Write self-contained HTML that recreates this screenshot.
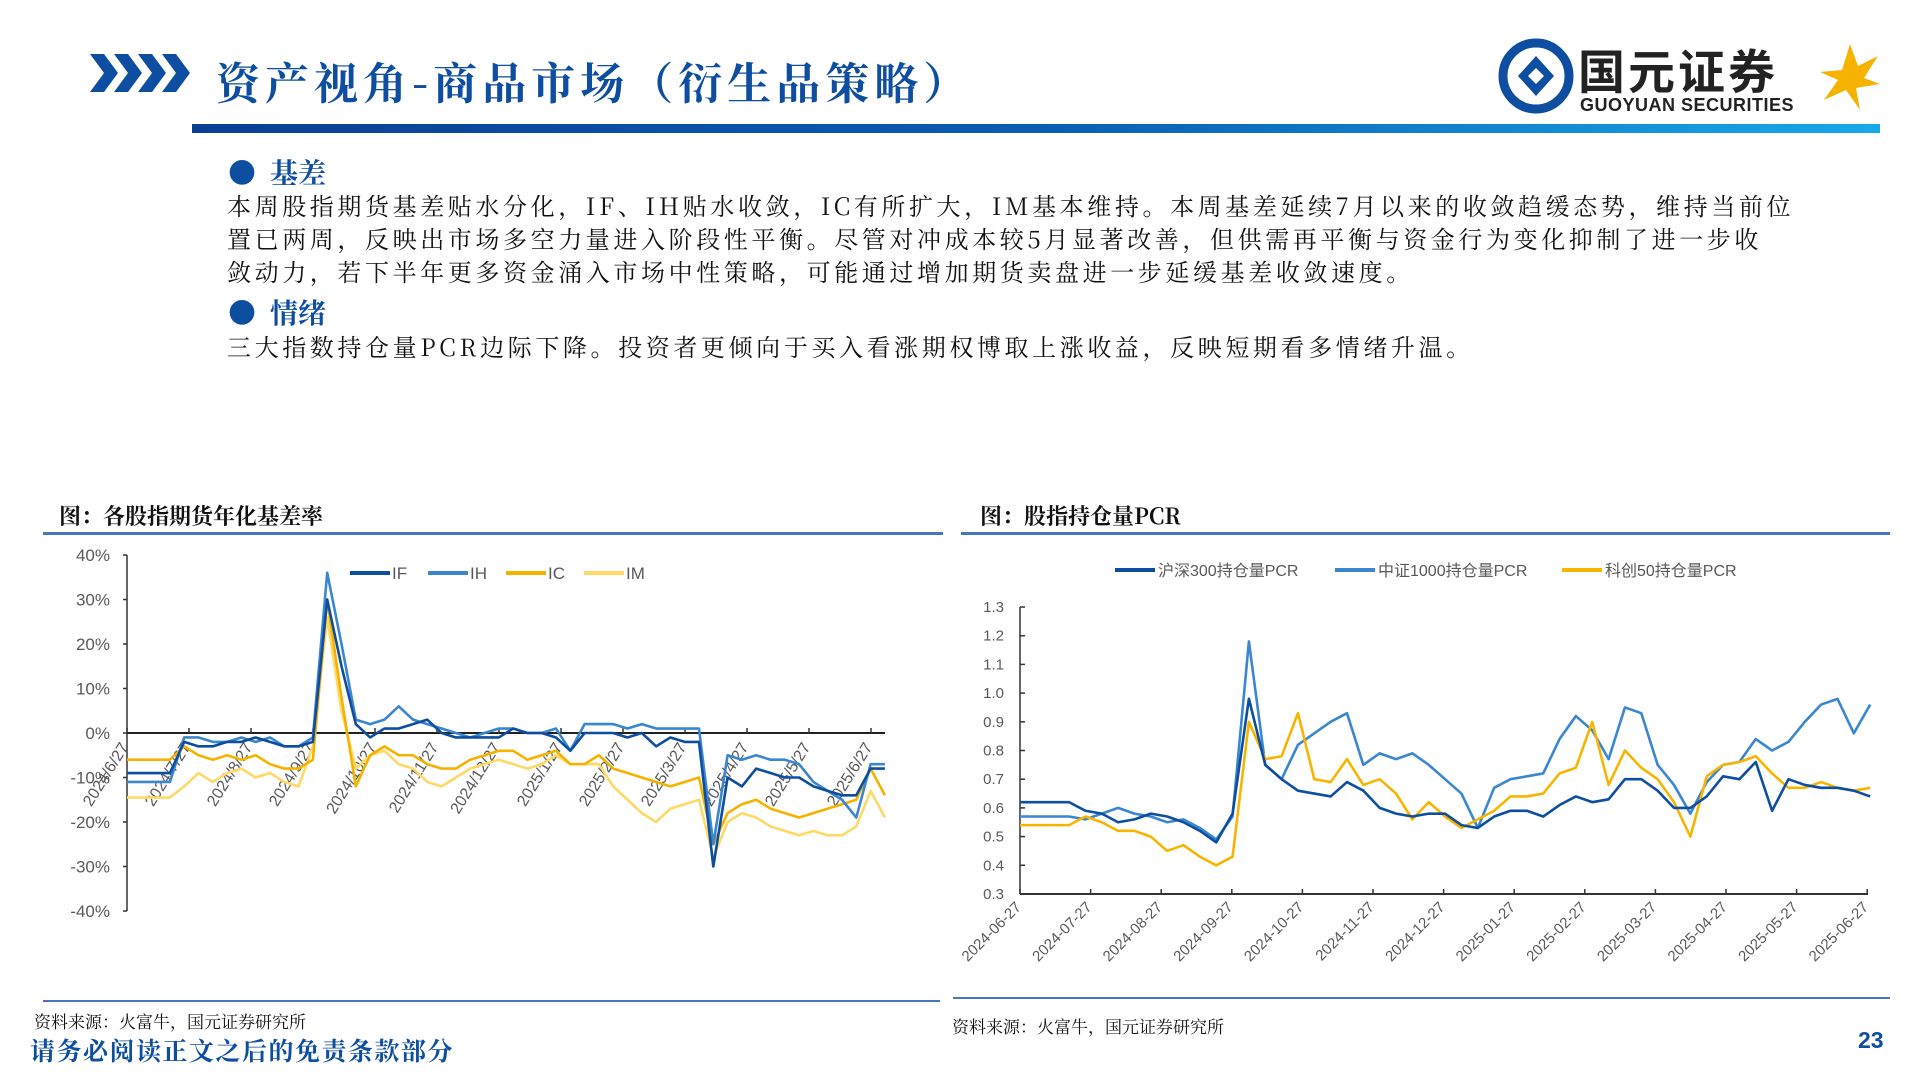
<!DOCTYPE html>
<html><head><meta charset="utf-8">
<style>
html,body{margin:0;padding:0;background:#fff;}
body{width:1920px;height:1080px;position:relative;overflow:hidden;font-family:"Liberation Sans","Noto Sans CJK SC",sans-serif;}
.abs{position:absolute;}
.cjk{font-family:"Noto Serif CJK SC","Noto Sans CJK SC",serif;}
.body-text{left:227px;font-size:24px;color:#111;line-height:33px;white-space:nowrap;letter-spacing:3.6px;}
.bullet-h{left:228px;font-size:28px;color:#0e4ea0;font-weight:bold;}
</style></head>
<body>
<svg class="abs" style="left:90px;top:52px" width="105" height="42">
 <g fill="#0e4ea0">
  <polygon points="0,2 14,2 28,21 14,40 0,40 14,21"/>
  <polygon points="24,2 38,2 52,21 38,40 24,40 38,21"/>
  <polygon points="48,2 62,2 76,21 62,40 48,40 62,21"/>
  <polygon points="72,2 86,2 100,21 86,40 72,40 86,21"/>
 </g>
</svg>
<div class="abs cjk" style="left:216px;top:48px;font-size:44px;color:#0e4ea0;font-weight:bold;letter-spacing:5px">资产视角-商品市场（衍生品策略）</div>
<div class="abs" style="left:192px;top:124px;width:1688px;height:9px;background:linear-gradient(90deg,#0a3f94,#0a5cb5 50%,#18a8e8)"></div>

<svg class="abs" style="left:1498px;top:38px" width="76" height="76">
 <circle cx="38" cy="38" r="33" fill="none" stroke="#0e4ea0" stroke-width="9"/>
 <polygon points="38,18 56,38 38,58 20,38" fill="#0e4ea0"/>
 <polygon points="38,30 46,38 38,46 30,38" fill="#fff"/>
</svg>
<div class="abs" style="left:1578px;top:34px;font-size:47px;font-weight:bold;color:#222;letter-spacing:3px">国元证券</div>
<div class="abs" style="left:1580px;top:95px;font-size:18px;font-weight:bold;color:#222;letter-spacing:0.5px">GUOYUAN SECURITIES</div>
<svg class="abs" style="left:1820px;top:44px" width="60" height="68">
 <polygon points="30,0 38,22 58,12 44,34 60,40 36,44 40,66 26,46 4,56 18,36 0,28 22,26" fill="#f5b300"/>
</svg>

<div class="abs bullet-h cjk" style="top:152px">●&nbsp; 基差</div>
<div class="abs body-text cjk" style="top:188px">本周股指期货基差贴水分化，IF、IH贴水收敛，IC有所扩大，IM基本维持。本周基差延续7月以来的收敛趋缓态势，维持当前位<br>置已两周，反映出市场多空力量进入阶段性平衡。尽管对冲成本较5月显著改善，但供需再平衡与资金行为变化抑制了进一步收<br>敛动力，若下半年更多资金涌入市场中性策略，可能通过增加期货卖盘进一步延缓基差收敛速度。</div>
<div class="abs bullet-h cjk" style="top:292px">●&nbsp; 情绪</div>
<div class="abs body-text cjk" style="top:329px">三大指数持仓量PCR边际下降。投资者更倾向于买入看涨期权博取上涨收益，反映短期看多情绪升温。</div>

<div class="abs cjk" style="left:59px;top:500px;font-size:22px;font-weight:bold;color:#111">图：各股指期货年化基差率</div>
<div class="abs" style="left:43px;top:532px;width:900px;height:3px;background:#4a76c0"></div>
<div class="abs cjk" style="left:980px;top:500px;font-size:22px;font-weight:bold;color:#111">图：股指持仓量PCR</div>
<div class="abs" style="left:961px;top:532px;width:929px;height:3px;background:#4a76c0"></div>
<div class="abs" style="left:43px;top:1000px;width:897px;height:2px;background:#4a76c0"></div>
<div class="abs" style="left:953px;top:997px;width:937px;height:2px;background:#4a76c0"></div>
<div class="abs cjk" style="left:34px;top:1008px;font-size:17px;color:#111">资料来源：火富牛，国元证券研究所</div>
<div class="abs cjk" style="left:952px;top:1013px;font-size:17px;color:#111">资料来源：火富牛，国元证券研究所</div>
<div class="abs cjk" style="left:30px;top:1032px;font-size:25px;font-weight:bold;color:#0e4ea0;letter-spacing:1.5px">请务必阅读正文之后的免责条款部分</div>
<div class="abs" style="left:1858px;top:1027px;font-size:23px;font-weight:bold;color:#0e4ea0">23</div>

<svg id="chart" class="abs" style="left:0;top:0" width="1920" height="1080"></svg>

<script>
const leftMonths=["2024/6/27","2024/7/27","2024/8/27","2024/9/27","2024/10/27","2024/11/27","2024/12/27","2025/1/27","2025/2/27","2025/3/27","2025/4/27","2025/5/27","2025/6/27"];
const leftYTicks=[40,30,20,10,0,-10,-20,-30,-40];
const IF=[-9,-9,-9,-9,-2,-3,-3,-2,-2,-1,-2,-3,-3,-2,30,15,2,-1,1,1,2,3,0,-1,-1,-1,-1,1,0,0,-1,-4,0,0,0,-1,0,-3,-1,-2,-2,-30,-10,-12,-8,-9,-10,-10,-12,-13,-14,-14,-8,-8];
const IH=[-11,-11,-11,-11,-1,-1,-2,-2,-1,-2,-1,-3,-3,-1,36,20,3,2,3,6,3,2,1,0,-1,0,1,1,0,0,1,-4,2,2,2,1,2,1,1,1,1,-25,-5,-6,-5,-6,-6,-7,-11,-13,-15,-19,-7,-7];
const IC=[-6,-6,-6,-6,-3,-5,-6,-5,-6,-5,-7,-8,-8,-6,30,8,-12,-5,-3,-5,-5,-7,-8,-8,-6,-5,-4,-4,-6,-5,-4,-7,-7,-5,-8,-9,-10,-11,-12,-11,-10,-25,-18,-16,-15,-17,-18,-19,-18,-17,-16,-15,-8,-14];
const IM=[-14.5,-14.5,-14.5,-14.5,-12,-9,-11,-9,-8,-10,-9,-11,-12,-3,26,5,-8,-5,-4,-7,-8,-11,-12,-10,-8,-7,-6,-7,-8,-7,-5,-7,-7,-7,-12,-15,-18,-20,-17,-16,-15,-28,-20,-18,-19,-21,-22,-23,-22,-23,-23,-21,-13,-19];
const leftSeriesNames=["IF","IH","IC","IM"];

const rightMonths=["2024-06-27","2024-07-27","2024-08-27","2024-09-27","2024-10-27","2024-11-27","2024-12-27","2025-01-27","2025-02-27","2025-03-27","2025-04-27","2025-05-27","2025-06-27"];
const rightYTicks=[1.3,1.2,1.1,1.0,0.9,0.8,0.7,0.6,0.5,0.4,0.3];
const HS300=[0.62,0.62,0.62,0.62,0.59,0.58,0.55,0.56,0.58,0.57,0.55,0.52,0.48,0.58,0.98,0.75,0.70,0.66,0.65,0.64,0.69,0.66,0.60,0.58,0.57,0.58,0.58,0.54,0.53,0.57,0.59,0.59,0.57,0.61,0.64,0.62,0.63,0.70,0.70,0.66,0.60,0.60,0.64,0.71,0.70,0.76,0.59,0.70,0.68,0.67,0.67,0.66,0.64];
const ZZ1000=[0.57,0.57,0.57,0.57,0.56,0.58,0.60,0.58,0.57,0.55,0.56,0.53,0.49,0.57,1.18,0.75,0.70,0.82,0.86,0.90,0.93,0.75,0.79,0.77,0.79,0.75,0.70,0.65,0.53,0.67,0.70,0.71,0.72,0.84,0.92,0.87,0.77,0.95,0.93,0.75,0.68,0.58,0.69,0.75,0.76,0.84,0.80,0.83,0.90,0.96,0.98,0.86,0.96];
const KC50=[0.54,0.54,0.54,0.54,0.57,0.55,0.52,0.52,0.50,0.45,0.47,0.43,0.40,0.43,0.90,0.77,0.78,0.93,0.70,0.69,0.77,0.68,0.70,0.65,0.56,0.62,0.57,0.53,0.56,0.59,0.64,0.64,0.65,0.72,0.74,0.90,0.68,0.80,0.74,0.70,0.62,0.50,0.71,0.75,0.76,0.78,0.72,0.67,0.67,0.69,0.67,0.66,0.67];
const rightSeriesNames=["沪深300持仓量PCR","中证1000持仓量PCR","科创50持仓量PCR"];

const NS="http://www.w3.org/2000/svg";
const svg=document.getElementById('chart');
function mk(tag,attrs,parent){const e=document.createElementNS(NS,tag);for(const k in attrs)e.setAttribute(k,attrs[k]);(parent||svg).appendChild(e);return e;}

const xL=i=>127+i*14.3, yL=v=>733-v*4.45, monthL=k=>127+k*62;
const xR=i=>1020+i*16.35, yR=v=>894-(v-0.3)*287, monthR=k=>1020+k*70.6;

// Left chart
let ax=mk('line',{x1:127,y1:555,x2:127,y2:911,stroke:'#333','stroke-width':1.5});


leftYTicks.forEach(v=>{
 const t=mk('line',{x1:123,y1:yL(v),x2:127,y2:yL(v),stroke:'#333','stroke-width':1.5});
 
 
 const l=mk('text',{x:110,y:yL(v)+6,'text-anchor':'end','font-size':17,fill:'#595959','font-family':'Liberation Sans'});
 l.textContent=v+'%';
 
 
});
const zl=mk('line',{x1:127,y1:yL(0),x2:885,y2:yL(0),stroke:'#222','stroke-width':2});


leftMonths.forEach((m,k)=>{
 const x=monthL(k);
 const t=mk('line',{x1:x,y1:yL(0)-5,x2:x,y2:yL(0),stroke:'#333','stroke-width':1.5});
 
 
 const l=mk('text',{x:x+2,y:yL(0)+14,'text-anchor':'end','font-size':16,fill:'#595959','font-family':'Liberation Sans',transform:`rotate(-58 ${x+2} ${yL(0)+14})`});
 l.textContent=m;
 
 
});
const leftData=[IF,IH,IC,IM], leftColors=['#0e4ea0','#3a86d0','#f5b300','#ffd966'];
[3,2,1,0].forEach(s=>{
 const p=mk('polyline',{points:leftData[s].map((v,i)=>xL(i)+','+yL(v)).join(' '),fill:'none',stroke:leftColors[s],'stroke-width':2.6,'stroke-linejoin':'round'});
 
 
});
leftSeriesNames.forEach((n,s)=>{
 const x=350+s*78;
 const ln=mk('line',{x1:x,y1:573,x2:x+40,y2:573,stroke:leftColors[s],'stroke-width':4});
 
 
 const t=mk('text',{x:x+42,y:579,'font-size':17,fill:'#595959','font-family':'Liberation Sans'});
 t.textContent=n;
 
 
});

// Right chart
const ry=mk('line',{x1:1020,y1:607,x2:1020,y2:894,stroke:'#333','stroke-width':1.5});


rightYTicks.forEach(v=>{
 const t=mk('line',{x1:1020,y1:yR(v),x2:1025,y2:yR(v),stroke:'#333','stroke-width':1.5});
 
 
 const l=mk('text',{x:1004,y:yR(v)+5,'text-anchor':'end','font-size':15,fill:'#595959','font-family':'Liberation Sans'});
 l.textContent=v.toFixed(1);
 
 
});
const rx=mk('line',{x1:1020,y1:894,x2:1868,y2:894,stroke:'#333','stroke-width':2});


rightMonths.forEach((m,k)=>{
 const x=monthR(k);
 const t=mk('line',{x1:x,y1:889,x2:x,y2:894,stroke:'#333','stroke-width':1.5});
 
 
 const l=mk('text',{x:x+2,y:908,'text-anchor':'end','font-size':15,fill:'#595959','font-family':'Liberation Sans',transform:`rotate(-45 ${x+2} 908)`});
 l.textContent=m;
 
 
});
const rightData=[HS300,ZZ1000,KC50], rightColors=['#0e4ea0','#3a86d0','#f8b500'];
[1,2,0].forEach(s=>{
 const p=mk('polyline',{points:rightData[s].map((v,i)=>xR(i)+','+yR(v)).join(' '),fill:'none',stroke:rightColors[s],'stroke-width':2.6,'stroke-linejoin':'round'});
 
 
});
const legX=[1115,1335,1562];
rightSeriesNames.forEach((n,s)=>{
 const x=legX[s];
 const ln=mk('line',{x1:x,y1:570,x2:x+40,y2:570,stroke:rightColors[s],'stroke-width':4});
 
 
 const t=mk('text',{x:x+43,y:576,'font-size':16,fill:'#595959','font-family':'Liberation Sans, Noto Sans CJK SC, sans-serif'});
 t.textContent=n;
 
 
});
</script>
</body></html>
